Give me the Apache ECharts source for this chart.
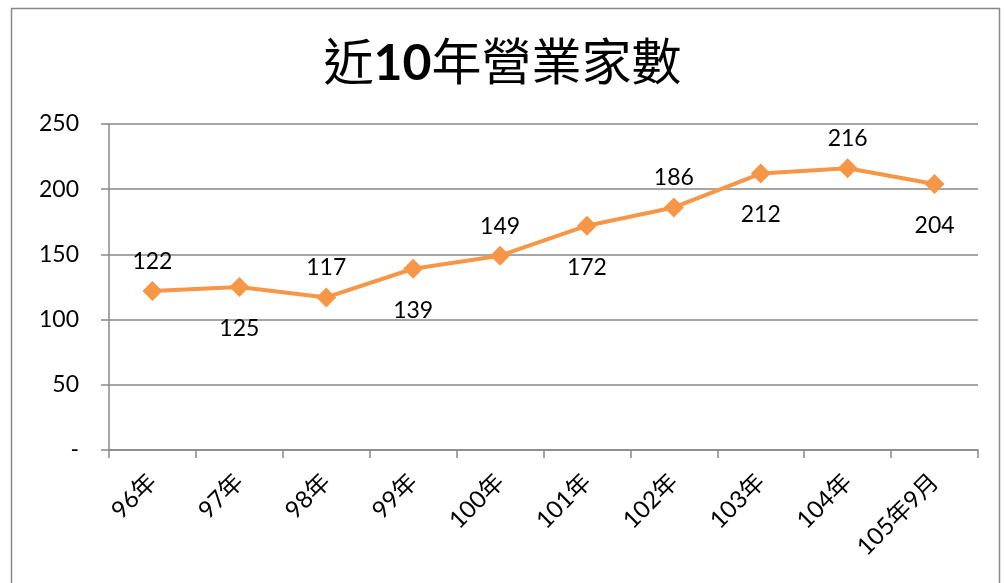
<!DOCTYPE html>
<html>
<head>
<meta charset="utf-8">
<script src="https://cdn.jsdelivr.net/npm/echarts@6/dist/echarts.min.js"></script>
<style>
  html, body { margin: 0; padding: 0; background: #fff; }
  #main { width: 1005px; height: 583px; }
</style>
</head>
<body>
<div id="main"></div>
<script>
const categories = ['96年', '97年', '98年', '99年', '100年', '101年', '102年', '103年', '104年', '105年9月']
const values = [122, 125, 117, 139, 149, 172, 186, 212, 216, 204]
// label above (true) or below (false) each point
const labelAbove = [true, false, true, false, true, false, true, false, true, false]
const yTicks = [0, 50, 100, 150, 200, 250]

const font = "Lato, 'Noto Sans CJK TC', sans-serif"
const chart = echarts.init(document.getElementById('main'))

chart.setOption({
    animation: false,
    backgroundColor: '#fff',
    graphic: [{
        type: 'rect',
        shape: { x: 11.5, y: 8.5, width: 988, height: 600 },
        style: { fill: 'none', stroke: '#888', lineWidth: 1.5 },
    }],
    title: {
        text: '{n|近}{b|10}{n|年營業家數}',
        left: 'center',
        top: 34,
        textStyle: {
            rich: {
                n: { fontSize: 50, color: '#000', fontWeight: 'normal', fontFamily: font },
                b: { fontSize: 50, color: '#000', fontWeight: 'bold', fontFamily: font },
            },
        },
    },
    grid: { left: 109, right: 27, top: 124, bottom: 133, containLabel: false },
    xAxis: {
        type: 'category',
        data: categories,
        boundaryGap: true,
        axisLine: { lineStyle: { color: '#888', width: 1.5 } },
        axisTick: { show: true, length: 8, lineStyle: { color: '#888', width: 1.5 } },
        axisLabel: {
            rotate: 45,
            margin: 28,
            fontSize: 24,
            color: '#000',
            fontFamily: font,
        },
    },
    yAxis: {
        type: 'value',
        min: yTicks[0],
        max: yTicks[yTicks.length - 1],
        interval: 50,
        axisLine: { show: true, lineStyle: { color: '#888', width: 1.5 } },
        axisTick: { show: true, length: 8, inside: false, lineStyle: { color: '#888', width: 1.5 } },
        splitLine: { lineStyle: { color: '#888', width: 1.5 } },
        axisLabel: {
            margin: 30,
            fontSize: 23,
            color: '#000',
            fontFamily: font,
            formatter: (v) => (v === 0 ? '-' : v),
        },
    },
    series: [{
        type: 'line',
        data: values.map((v, i) => ({
            value: v,
            label: { position: labelAbove[i] ? 'top' : 'bottom', distance: labelAbove[i] ? 8 : 20 },
        })),
        symbol: 'diamond',
        symbolSize: 20,
        lineStyle: { color: '#F79646', width: 4 },
        itemStyle: { color: '#F79646' },
        label: {
            show: true,
            fontSize: 23,
            color: '#000',
            fontFamily: font,
        },
    }],
})
</script>
</body>
</html>
